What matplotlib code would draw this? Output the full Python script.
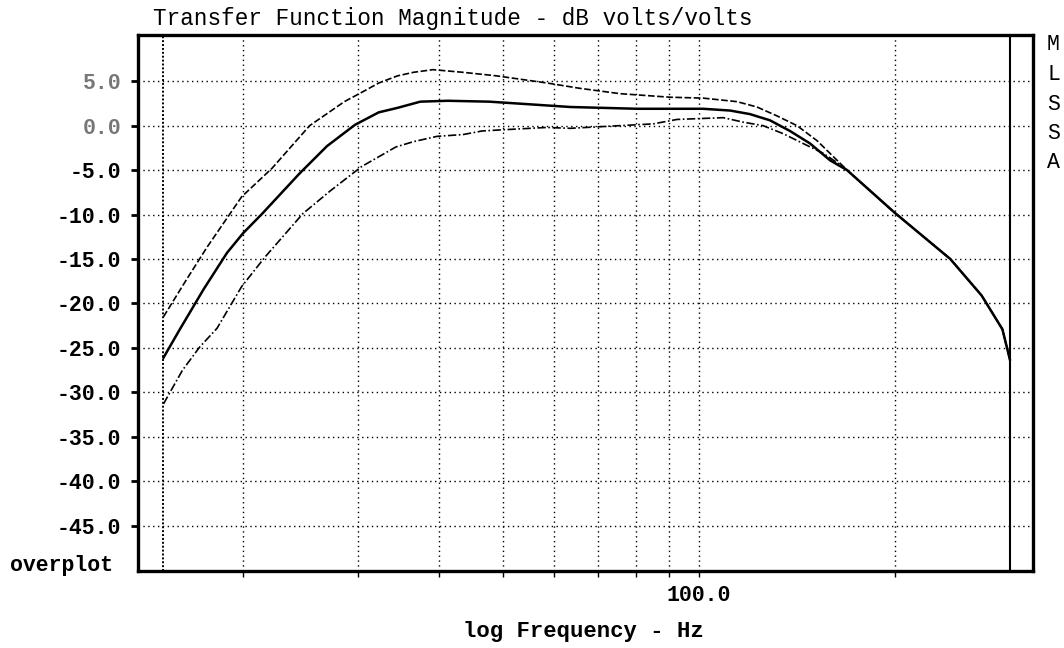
import matplotlib
matplotlib.use("Agg")
from matplotlib import pyplot as plt

plt.rcParams["axes.unicode_minus"] = False
mono = "Liberation Mono"

# measured response, Hz / dB
mid_f = [15.1, 16.0, 17.4, 18.9, 20.0, 21.4, 24.4, 26.9, 29.7, 32.3, 34.5, 37.4,
         41.2, 47.7, 55.1, 63.5, 80.4, 101.5, 111.7, 119.8, 128.6, 138.0, 148.1,
         159.0, 168.8, 199.8, 243.1, 271.5, 292.2, 299.1, 300.0]
mid_db = [-26.1, -22.9, -18.4, -14.3, -12.1, -9.9, -5.4, -2.3, 0.1, 1.5, 2.0, 2.7,
          2.8, 2.7, 2.4, 2.1, 1.9, 1.9, 1.7, 1.3, 0.6, -0.6, -2.0,
          -3.9, -5.0, -9.8, -15.0, -19.1, -22.9, -25.9, -26.3]

up_f = [15.1, 16.35, 17.6, 19.9, 22.15, 25.3, 28.6, 30.5, 32.3, 34.5, 36.5, 39.1,
        43.5, 49.0, 58.5, 65.7, 75.7, 90.3, 101.5, 114.5, 122.8, 131.8, 141.5,
        151.9, 163.0, 168.8, 199.8, 243.1, 271.5, 292.2, 299.1, 300.0]
up_db = [-21.5, -17.4, -13.7, -8.0, -4.8, 0.0, 2.7, 3.8, 4.8, 5.6, 6.0, 6.3,
         6.0, 5.6, 4.8, 4.2, 3.6, 3.2, 3.1, 2.7, 2.1, 1.1, 0.0,
         -1.7, -3.9, -5.0, -9.8, -15.0, -19.1, -22.9, -25.9, -26.3]

lo_f = [15.1, 16.15, 17.16, 18.24, 19.9, 21.6, 24.7, 27.25, 30.4, 34.3, 36.5, 39.7,
        43.5, 46.5, 49.0, 58.5, 63.5, 71.3, 85.1, 92.6, 109.0, 116.9, 125.5,
        134.7, 144.5, 155.1, 166.4, 199.8, 243.1, 271.5, 292.2, 299.1, 300.0]
lo_db = [-31.3, -27.5, -24.9, -22.8, -18.1, -14.8, -9.9, -7.3, -4.6, -2.4, -1.8, -1.2,
         -1.0, -0.6, -0.5, -0.2, -0.3, -0.1, 0.2, 0.7, 0.9, 0.4, 0.0,
         -0.9, -2.0, -3.1, -4.6, -9.8, -15.0, -19.1, -22.9, -25.9, -26.3]

f_start, f_stop = 15.1, 300.0
grid_f = [20, 30, 40, 50, 60, 70, 80, 90, 100, 200]
grid_db = [-45, -40, -35, -30, -25, -20, -15, -10, -5, 0, 5]
db_labels = ["%.1f" % v for v in grid_db]
f_labels = ["100.0" if f == 100 else "" for f in grid_f]

fig = plt.figure(figsize=(10.64, 6.48), dpi=100)
ax = fig.add_axes([0.1297, 0.1188, 0.8412, 0.8272])

ax.plot(up_f, up_db, color="black", lw=1.2, ls=(0, (4, 1.5)))
ax.plot(mid_f, mid_db, color="black", lw=1.8)
ax.plot(lo_f, lo_db, color="black", lw=1.2, ls=(0, (5, 1.5, 1, 1.5)))

ax.set_xscale("log")
ax.set_xlim(13.8, 325.6)
ax.set_ylim(-50.1, 10.2)
ax.minorticks_off()
ax.set_xticks(grid_f)
ax.set_xticklabels(f_labels)
ax.set_yticks(grid_db)
ax.set_yticklabels(db_labels)

for f in grid_f:
    ax.axvline(f, color="black", lw=1.0, ls=(0, (1, 2.5)))
for v in grid_db:
    ax.axhline(v, color="black", lw=1.0, ls=(0, (1, 2.5)))
ax.axvline(f_start, color="black", lw=1.4, ls=(0, (1, 1)))
ax.axvline(f_stop, color="black", lw=1.5)

for s in ax.spines.values():
    s.set_linewidth(2.4)
ax.tick_params(axis="y", direction="out", length=5, width=2, pad=7)
ax.tick_params(axis="x", direction="out", length=4, width=1, pad=6)
for lab in ax.get_yticklabels() + ax.get_xticklabels():
    lab.set_fontfamily(mono)
    lab.set_fontweight("bold")
    lab.set_fontsize(15.5)
for lab in ax.get_yticklabels()[-2:]:
    lab.set_color("#777777")

fig.text(153 / 1064, 1 - 18 / 648, "Transfer Function Magnitude - dB volts/volts",
         family=mono, fontsize=16.3, va="center", ha="left")
fig.text(583 / 1064, 1 - 632 / 648, "log Frequency - Hz", family=mono,
         fontweight="bold", fontsize=16, va="center", ha="center")
fig.text(10 / 1064, 1 - 565 / 648, "overplot", family=mono, fontweight="bold",
         fontsize=15.5, va="center", ha="left")
for i, ch in enumerate("MLSSA"):
    fig.text(1047 / 1064, 1 - (45 + 29.5 * i) / 648, ch, family=mono,
             fontsize=15.5, va="center", ha="left")

fig.savefig("out.png", dpi=100)
